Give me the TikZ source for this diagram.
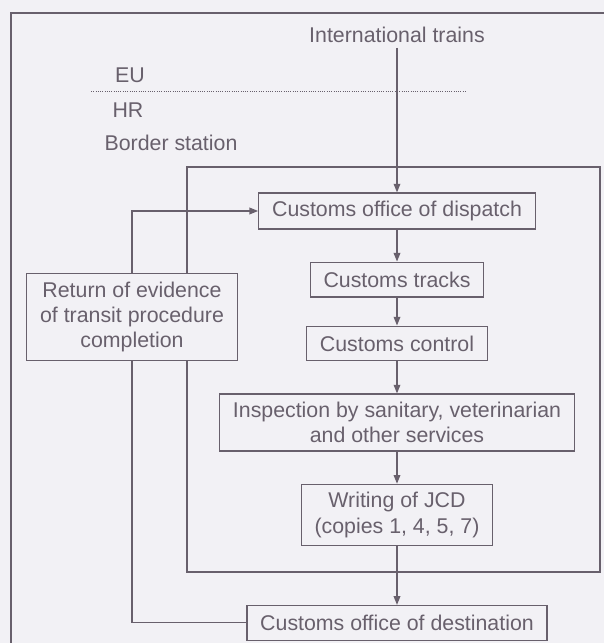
\documentclass[tikz,border=0pt]{standalone}
\usepackage{fontspec}
\setmainfont{Liberation Sans}
\usetikzlibrary{positioning,arrows.meta}
\definecolor{ink}{RGB}{104,96,108}
\definecolor{paper}{RGB}{242,241,245}

\begin{document}
\begin{tikzpicture}[x=0.75pt,y=0.75pt,node distance=24pt,line width=0.95pt,color=ink,
  font=\fontsize{16}{19}\selectfont,>={Triangle[length=6.5pt,width=5pt]},
  box/.style={draw,fill=paper,inner xsep=10pt,inner ysep=6pt,minimum height=26pt,align=center}]
\useasboundingbox (0,0) rectangle (604,643);
\fill[paper] (0,0) rectangle (604,643);

% frames
\draw (11,0) -- (11,630) -- (604,630);
\draw (187,71) rectangle (600,476);
\draw[densely dotted,line width=0.7pt] (91,552) -- (467,552);

\node (0) at (397,608) {International trains};
\node (eu) at (130,568) {EU};
\node (hr) at (128,533) {HR};
\node (bs) at (171,500) {Border station};

\node[box] (1) at (397,432) {Customs office of dispatch};
\node[box] (2) [below=of 1] {Customs tracks};
\node[box] (3) [below=21pt of 2] {Customs control};
\node[box] (4) [below=of 3] {Inspection by sanitary, veterinarian\\and other services};
\node[box] (5) [below=of 4] {Writing of JCD\\(copies 1, 4, 5, 7)};
\node[box] (6) [below=44pt of 5] {Customs office of destination};
\node[box] (7) at (132,326) {Return of evidence\\of transit procedure\\completion};

\path[draw,->]
(0) edge (1)
(1) edge (2)
(2) edge (3)
(3) edge (4)
(4) edge (5)
(5) edge (6)
;
\draw[->] (7) |- (1);
\draw (7) |- (6);
\end{tikzpicture}
\end{document}
